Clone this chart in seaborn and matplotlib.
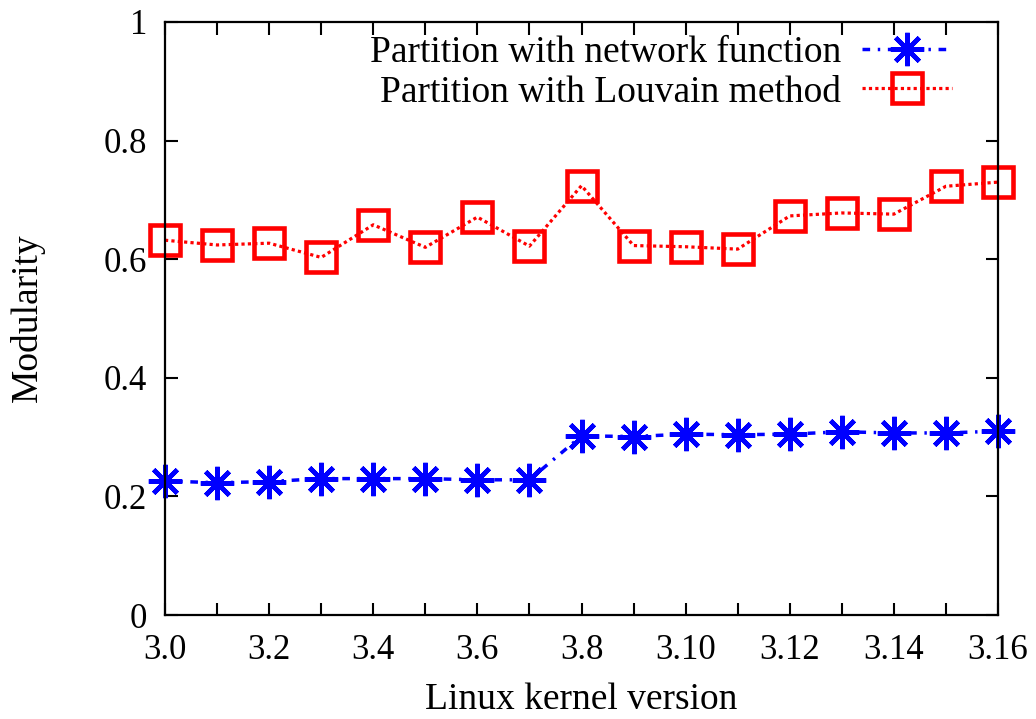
import matplotlib
matplotlib.use("Agg")
import matplotlib.pyplot as plt
import seaborn as sns
import pandas as pd

versions = ["3.0", "3.1", "3.2", "3.3", "3.4", "3.5", "3.6", "3.7", "3.8", "3.9",
            "3.10", "3.11", "3.12", "3.13", "3.14", "3.15", "3.16"]
network_function = [0.226, 0.223, 0.225, 0.230, 0.230, 0.230, 0.228, 0.228, 0.302,
                    0.301, 0.305, 0.304, 0.305, 0.309, 0.307, 0.307, 0.310]
louvain = [0.632, 0.624, 0.627, 0.603, 0.658, 0.620, 0.671, 0.622, 0.724,
           0.623, 0.621, 0.617, 0.673, 0.678, 0.676, 0.723, 0.730]
xtick_labels = ["3.0", "3.2", "3.4", "3.6", "3.8", "3.10", "3.12", "3.14", "3.16"]
yticks = [0, 0.2, 0.4, 0.6, 0.8, 1]
ytick_labels = ["0", "0.2", "0.4", "0.6", "0.8", "1"]

sns.set_theme(style="ticks")
plt.rcParams["font.family"] = ["Liberation Serif", "DejaVu Serif"]
plt.rcParams["text.color"] = "black"
plt.rcParams["axes.labelcolor"] = "black"
plt.rcParams["xtick.color"] = "black"
plt.rcParams["ytick.color"] = "black"

df = pd.DataFrame({"pos": range(len(versions)), "version": versions,
                   "net": network_function, "louv": louvain})

fig = plt.figure(figsize=(10.36, 7.19), dpi=100)
ax = fig.add_axes([165 / 1036, 1 - 615 / 719, (998 - 165) / 1036, (615 - 22) / 719])

sns.lineplot(data=df, x="pos", y="net", ax=ax, color="#0000ff",
             linewidth=2.5, label="Partition with network function")
l1 = ax.lines[-1]
l1.set_dashes([2.2, 2.2, 0.7, 2.2])
l1.set_marker((8, 2, 0))
l1.set_markersize(24)
l1.set_markeredgewidth(3.3)
l1.set_markeredgecolor("#0000ff")
l1.set_clip_on(False)

sns.lineplot(data=df, x="pos", y="louv", ax=ax, color="#ff0000",
             linewidth=2.3, label="Partition with Louvain method")
l2 = ax.lines[-1]
l2.set_dashes([1, 1])
l2.set_marker("s")
l2.set_markersize(22)
l2.set_markeredgewidth(3.3)
l2.set_markerfacecolor("none")
l2.set_markeredgecolor("#ff0000")
l2.set_clip_on(False)

ax.set_xlim(0, len(versions) - 1)
ax.set_ylim(0, 1)
ax.set_xticks(range(len(versions)))
ax.set_xticklabels([v if v in xtick_labels else "" for v in versions])
ax.set_yticks(yticks)
ax.set_yticklabels(ytick_labels)
ax.tick_params(axis="both", direction="in", length=9, width=1.5, labelsize=25,
               top=True, right=True, colors="black")
ax.tick_params(axis="x", pad=14)
ax.tick_params(axis="y", pad=13)
for s in ax.spines.values():
    s.set_visible(True)
    s.set_linewidth(1.6)
    s.set_color("black")
    s.set_zorder(3)

ax.set_xlabel("Linux kernel version", fontsize=27, color="black")
ax.set_ylabel("Modularity", fontsize=27, color="black")
ax.xaxis.set_label_coords((581 - 165) / 833, -(700 - 615) / 593)
ax.yaxis.set_label_coords(-(165 - 27) / 833, (615 - 318) / 593)
ax.xaxis.label.set_va("center")
ax.yaxis.label.set_va("center")

leg = ax.legend(loc="upper right", frameon=False, markerfirst=False, fontsize=27,
                handlelength=2.4, handletextpad=0.55, borderpad=0, borderaxespad=0,
                labelspacing=0.12,
                bbox_to_anchor=(952 / 1036, 1 - 36 / 719),
                bbox_transform=fig.transFigure)
for t in leg.get_texts():
    t.set_color("black")

fig.savefig("out.png", dpi=100)
